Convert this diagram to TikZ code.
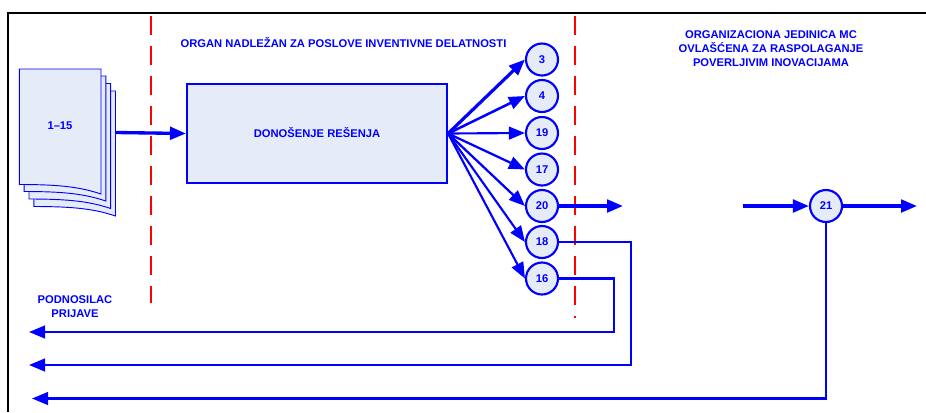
\documentclass[tikz,border=0pt]{standalone}
\usepackage{fontspec}
\setmainfont{Liberation Sans}
\usetikzlibrary{arrows.meta}
\definecolor{lb}{HTML}{E6ECF7}
\definecolor{bl}{HTML}{0000FF}
\definecolor{rd}{HTML}{FF0000}
\tikzset{
 x=0.75pt,y=-0.75pt,
 lab/.style={font=\bfseries\fontsize{8.4pt}{10.5pt}\selectfont,text=bl,align=center,inner sep=0pt},
 circ/.style={circle,draw=bl,fill=lb,line width=1.6pt,minimum size=24pt,inner sep=0pt,font=\bfseries\fontsize{8.4pt}{10pt}\selectfont,text=bl},
 mainbox/.style={draw=bl,fill=lb,line width=1.6pt,minimum width=195pt,minimum height=74.25pt,inner sep=0pt},
 pagesheet/.style={draw=bl,fill=lb,line width=0.7pt},
 redline/.style={draw=rd,line width=1.5pt,dash pattern=on 14.6pt off 7.9pt},
 arr/.style={draw=bl,-{Triangle[length=12pt,width=9.5pt]}},
 thin line/.style={draw=bl,line width=1.5pt},
 frameline/.style={draw=black,line width=2.2pt}
}
\newcommand{\sheet}[2]{\draw[pagesheet,shift={(#1,#2)}] (19.3,69) -- (101,69) -- (101,194) .. controls (80,187) and (60,184.5) .. (19.3,184.5) -- cycle;}
\begin{document}
\begin{tikzpicture}
\useasboundingbox (0,0) rectangle (926,412);
\fill[white] (0,0) rectangle (926,412);
\draw[frameline] (8,412) -- (8,13) -- (926,13);
% stacked pages
\sheet{14.5}{22}
\sheet{9.7}{14.5}
\sheet{4.8}{7}
\sheet{0}{0}
\node[lab] (doc) at (60,126) {1–15};
\coordinate (docout) at (115.7,132.5);
% dividers
\coordinate (r1a) at (151,16); \coordinate (r1b) at (151,303);
\coordinate (r2a) at (575,16); \coordinate (r2b) at (575,318);
\draw[redline] (r1a) -- (r1b);
\draw[redline] (r2a) -- (r2b);
% titles
\node[lab] (t1) at (343.5,43) {ORGAN NADLEŽAN ZA POSLOVE INVENTIVNE DELATNOSTI};
\node[lab] (t2) at (771,49) {ORGANIZACIONA JEDINICA MC\\OVLAŠĆENA ZA RASPOLAGANJE\\POVERLJIVIM INOVACIJAMA};
\node[lab] (t3) at (75,306.5) {PODNOSILAC\\PRIJAVE};
% main box
\node[mainbox,lab,inner sep=0pt] (box) at (317,133.5) {};
\node[lab] (boxt) at (317,133) {DONOŠENJE REŠENJA};
% circles
\node[circ] (c3) at (542,59.5) {3};
\node[circ] (c4) at (542,96) {4};
\node[circ] (c19) at (542,133) {19};
\node[circ] (c17) at (542,169.5) {17};
\node[circ] (c20) at (542,206) {20};
\node[circ] (c18) at (542,242) {18};
\node[circ] (c16) at (542,278.5) {16};
\node[circ] (c21) at (826,206) {21};
% arrows
\draw[arr,line width=2.5pt] (docout) -- (box.west);
\draw[arr,line width=2.4pt] (box.east) -- (c3.west);
\draw[arr,line width=1.9pt] (box.east) -- (c4.west);
\draw[arr,line width=1.6pt] (box.east) -- (c19.west);
\draw[arr,line width=1.7pt] (box.east) -- (c17.west);
\draw[arr,line width=1.7pt] (box.east) -- (c20.west);
\draw[arr,line width=1.6pt] (box.east) -- (c18.west);
\draw[arr,line width=1.6pt] (box.east) -- (c16.west);
\coordinate (o20) at (623,206);
\draw[arr,line width=2.4pt] (c20.east) -- (o20);
\coordinate (in21) at (743,206);
\coordinate (o21) at (917,206);
\draw[arr,line width=2.4pt] (in21) -- (c21.west);
\draw[arr,line width=2.4pt] (c21.east) -- (o21);
\coordinate (e16) at (29,332);
\coordinate (e18) at (29,365);
\coordinate (e21) at (32,398.5);
\draw[arr,line width=1.6pt] (c16.east) -| (614,332) -- (e16);
\draw[arr,line width=1.6pt] (c18.east) -| (631,365) -- (e18);
\draw[arr,line width=1.6pt] (c21.south) |- (e21);
\end{tikzpicture}
\end{document}
